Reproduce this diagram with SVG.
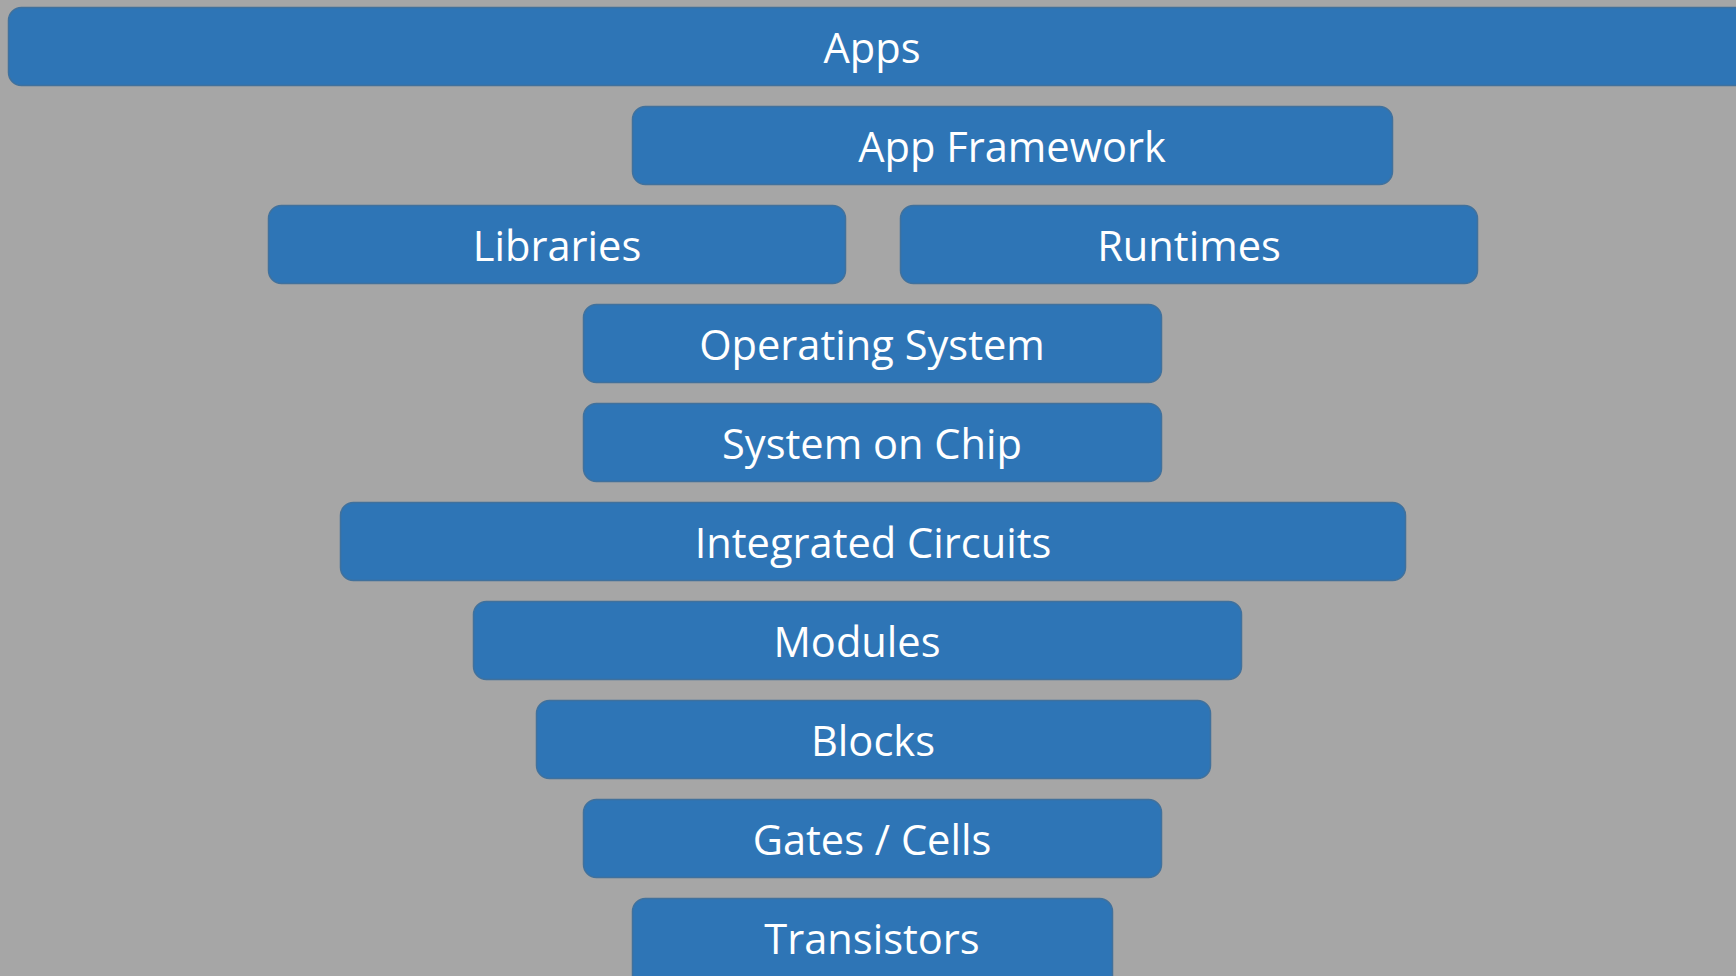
<svg xmlns="http://www.w3.org/2000/svg" width="1736" height="976" viewBox="0 0 1736 976">
  <style>
    .box { fill: #2E75B6; stroke: #41719C; stroke-width: 1.5; }
    .lbl { fill: #FFFFFF; font-family: "Open Sans", "Noto Sans", "Liberation Sans", sans-serif; font-size: 41.6px; text-anchor: middle; }
  </style>
  <rect width="1736" height="976" fill="#A6A6A6"/>
  <g id="apps"><rect class="box" x="8.5" y="7.5" width="1740" height="78" rx="13"/><text class="lbl" x="872" y="63">Apps</text></g>
  <g id="app-framework"><rect class="box" x="632.5" y="106.5" width="760" height="78" rx="13"/><text class="lbl" x="1012" y="162">App Framework</text></g>
  <g id="libraries"><rect class="box" x="268.5" y="205.5" width="577" height="78" rx="13"/><text class="lbl" x="557" y="261">Libraries</text></g>
  <g id="runtimes"><rect class="box" x="900.5" y="205.5" width="577" height="78" rx="13"/><text class="lbl" x="1189" y="261">Runtimes</text></g>
  <g id="operating-system"><rect class="box" x="583.5" y="304.5" width="578" height="78" rx="13"/><text class="lbl" x="872" y="360">Operating System</text></g>
  <g id="system-on-chip"><rect class="box" x="583.5" y="403.5" width="578" height="78" rx="13"/><text class="lbl" x="872" y="459">System on Chip</text></g>
  <g id="integrated-circuits"><rect class="box" x="340.5" y="502.5" width="1065" height="78" rx="13"/><text class="lbl" x="873" y="558">Integrated Circuits</text></g>
  <g id="modules"><rect class="box" x="473.5" y="601.5" width="768" height="78" rx="13"/><text class="lbl" x="857" y="657">Modules</text></g>
  <g id="blocks"><rect class="box" x="536.5" y="700.5" width="674" height="78" rx="13"/><text class="lbl" x="873" y="756">Blocks</text></g>
  <g id="gates-cells"><rect class="box" x="583.5" y="799.5" width="578" height="78" rx="13"/><text class="lbl" x="872" y="855">Gates / Cells</text></g>
  <g id="transistors"><rect class="box" x="632.5" y="898.5" width="480" height="90" rx="13"/><text class="lbl" x="872" y="954">Transistors</text></g>
  <g id="connectors"/>
</svg>
